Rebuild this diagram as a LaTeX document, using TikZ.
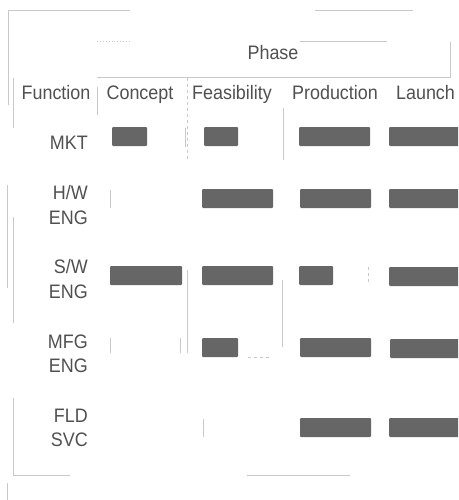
\documentclass[tikz,border=0pt]{standalone}
\usepackage{fontspec}
\setmainfont[FakeStretch=0.92]{Liberation Sans}
\definecolor{inkgray}{HTML}{505050}
\definecolor{bargray}{HTML}{666666}
\definecolor{rulegray}{HTML}{C8C8C8}
\begin{document}
\begin{tikzpicture}[x=1pt, y=-1pt, every node/.style={inner sep=0pt, text=inkgray, font=\fontsize{19.5}{24.5}\selectfont}, head/.style={anchor=base}, func/.style={anchor=east, align=right}, bar/.style={fill=bargray, minimum height=19pt, rounded corners=1pt}, rule/.style={draw=rulegray, line width=0.9pt}]

		\useasboundingbox (0,0) rectangle (458,500);
		\clip (0,0) rectangle (458,500);

		\node (phase) at (273,60) [head] {Phase};

		\node (function) at (56,100) [head] {Function};
		\node (concept) at (140,100) [head] {Concept};
		\node (feasibility) at (232,100) [head] {Feasibility};
		\node (production) at (335,100) [head] {Production};
		\node (launch) at (425.5,100) [head] {Launch};

		\node (mkt) at (88,142.5) [func] {MKT};
		\node (hw) at (88,205) [func] {H/W\\ENG};
		\node (sw) at (88,279) [func] {S/W\\ENG};
		\node (mfg) at (88,354) [func] {MFG\\ENG};
		\node (fld) at (88,428) [func] {FLD\\SVC};

		\node[bar, minimum width=35] (mkt1) at (129.5,136.5) {};
		\node[bar, minimum width=34] (mkt2) at (221,136.5) {};
		\node[bar, minimum width=71] (mkt3) at (334.5,136.5) {};
		\node[bar, minimum width=72] (mkt4) at (425,136.5) {};

		\node[bar, minimum width=71] (hw2) at (237.5,198.5) {};
		\node[bar, minimum width=71] (hw3) at (335.5,198.5) {};
		\node[bar, minimum width=72] (hw4) at (425,198.5) {};

		\node[bar, minimum width=72] (sw1) at (146,275.5) {};
		\node[bar, minimum width=71] (sw2) at (237.5,275.5) {};
		\node[bar, minimum width=34] (sw3) at (316,275.5) {};
		\node[bar, minimum width=72] (sw4) at (425,276.5) {};

		\node[bar, minimum width=36] (mfg2) at (220,347.5) {};
		\node[bar, minimum width=71] (mfg3) at (335.5,347.5) {};
		\node[bar, minimum width=72] (mfg4) at (426,348.5) {};

		\node[bar, minimum width=71] (fld3) at (335.5,427.5) {};
		\node[bar, minimum width=72] (fld4) at (425,427.5) {};

		\draw[rule] (8,105) -- (8,10) -- (130,10);
		\draw[rule] (315,10) -- (413,10);
		\draw[rule, dotted] (97,41) -- (130,41);
		\draw[rule] (300,41) -- (387,41);
		\draw[rule] (97,77) -- (450,77) -- (450,42);
		\draw[rule] (13,78) -- (13,128);

		\draw[rule] (97,87) -- (97,115);
		\draw[rule, dashed] (187,78) -- (187,160);
		\draw[rule] (185,128) -- (185,147);
		\draw[rule] (283,108) -- (283,160);

		\draw[rule] (7,185) -- (7,288);
		\draw[rule] (13,217) -- (13,323);
		\draw[rule] (110,190) -- (110,208);
		\draw[rule] (187,270) -- (187,353);
		\draw[rule] (282,280) -- (282,347);
		\draw[rule, dashed] (368,267) -- (368,283);

		\draw[rule] (110,338) -- (110,353);
		\draw[rule] (180,338) -- (180,353);
		\draw[rule, dashed] (248,357) -- (270,357);
		\draw[rule] (203,419) -- (203,437);

		\draw[rule] (13,398) -- (13,475) -- (70,475);
		\draw[rule] (247,475) -- (350,475);
		\draw[rule] (7,483) -- (7,500);

	\end{tikzpicture}
\end{document}
